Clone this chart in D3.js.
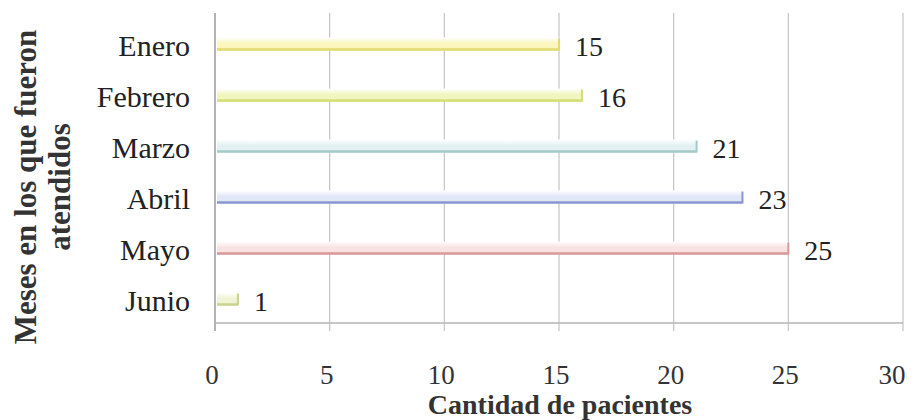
<!DOCTYPE html>
<html>
<head>
<meta charset="utf-8">
<script src="https://cdn.jsdelivr.net/npm/d3@7/dist/d3.min.js"></script>
<style>
  html, body { margin: 0; padding: 0; background: #ffffff; }
  svg { display: block; }
</style>
</head>
<body>
<svg id="chart" width="914" height="420"></svg>
<script>
// Pacientes atendidos por mes
const months = ["Enero", "Febrero", "Marzo", "Abril", "Mayo", "Junio"];
const patients = [15, 16, 21, 23, 25, 1];
const xTicks = [0, 5, 10, 15, 20, 25, 30];
const edgeColors = ["#e2da72", "#d4dc76", "#a4cac8", "#8a96d4", "#da9898", "#cad28c"];
const faceColors = ["#faf6bc", "#f1f6c0", "#e2f2f2", "#e2e7f8", "#f9e2e2", "#f1f4d4"];

const svg = d3.select("#chart");
const serif = "'Liberation Serif', 'Times New Roman', serif";

const x = d3.scaleLinear().domain([0, 30]).range([215, 903]);
const y = d3.scaleBand().domain(months).range([17, 323]);
const gridTop = 13, axisY = 323;

// vertical gridlines
svg.append("g").selectAll("line").data(xTicks).join("line")
  .attr("x1", d => x(d)).attr("x2", d => x(d))
  .attr("y1", gridTop).attr("y2", axisY + 8)
  .attr("stroke", d => d === 0 ? "#9a9a9a" : "#c4c4c4")
  .attr("stroke-width", d => d === 0 ? 1.5 : 1.2);

// x axis baseline
svg.append("line")
  .attr("x1", x(0)).attr("x2", x(30))
  .attr("y1", axisY).attr("y2", axisY)
  .attr("stroke", "#b4b4b4").attr("stroke-width", 1.5);

// x tick labels (the last one is pulled in so it stays inside the frame)
svg.append("g").selectAll("text").data(xTicks).join("text")
  .attr("x", d => x(d) - (d === 30 ? 11 : 3)).attr("y", 384)
  .attr("text-anchor", "middle")
  .attr("font-family", serif).attr("font-size", 27)
  .attr("fill", "#333")
  .text(d => d);

// category labels
svg.append("g").selectAll("text").data(months).join("text")
  .attr("x", 190).attr("y", d => y(d) + y.bandwidth() / 2 + 13)
  .attr("text-anchor", "end")
  .attr("font-family", serif).attr("font-size", 30)
  .attr("fill", "#222")
  .text(d => d);

// bars: pale face with a stronger lower edge and end cap
const rows = months.map((m, i) => ({ m, v: patients[i], edge: edgeColors[i], face: faceColors[i], i }));
const defs = svg.append("defs");
rows.forEach(r => {
  const g = defs.append("linearGradient").attr("id", "grad" + r.i)
    .attr("x1", 0).attr("y1", 0).attr("x2", 0).attr("y2", 1);
  g.append("stop").attr("offset", "0%").attr("stop-color", "#ffffff");
  g.append("stop").attr("offset", "45%").attr("stop-color", r.face);
  g.append("stop").attr("offset", "100%").attr("stop-color", r.face);
});

const barG = svg.append("g").selectAll("g").data(rows).join("g");
const bottom = d => y(d.m) + y.bandwidth() / 2 + 8;
barG.append("rect")
  .attr("x", x(0) + 2).attr("width", d => x(d.v) - x(0) - 2)
  .attr("y", d => bottom(d) - 13).attr("height", 13)
  .attr("fill", d => `url(#grad${d.i})`);
barG.append("line")
  .attr("x1", x(0) + 2).attr("x2", d => x(d.v))
  .attr("y1", d => bottom(d) - 1).attr("y2", d => bottom(d) - 1)
  .attr("stroke", d => d.edge).attr("stroke-width", 2.5);
barG.append("line")
  .attr("x1", d => x(d.v)).attr("x2", d => x(d.v))
  .attr("y1", d => bottom(d) - 12).attr("y2", d => bottom(d))
  .attr("stroke", d => d.edge).attr("stroke-width", 2);

// value labels
barG.append("text")
  .attr("x", d => x(d.v) + 16).attr("y", d => y(d.m) + y.bandwidth() / 2 + 13)
  .attr("font-family", serif).attr("font-size", 28)
  .attr("fill", "#222")
  .text(d => d.v);

// axis titles
svg.append("text")
  .attr("x", 560).attr("y", 414)
  .attr("text-anchor", "middle")
  .attr("font-family", serif).attr("font-size", 28).attr("font-weight", "bold")
  .attr("fill", "#333")
  .text("Cantidad de pacientes");

const yTitle = svg.append("text")
  .attr("transform", "translate(0,187) rotate(-90)")
  .attr("text-anchor", "middle")
  .attr("font-family", serif).attr("font-size", 31).attr("font-weight", "bold")
  .attr("fill", "#333");
yTitle.append("tspan").attr("x", 0).attr("y", 36).text("Meses en los que fueron");
yTitle.append("tspan").attr("x", 0).attr("y", 70).text("atendidos");
</script>
</body>
</html>
